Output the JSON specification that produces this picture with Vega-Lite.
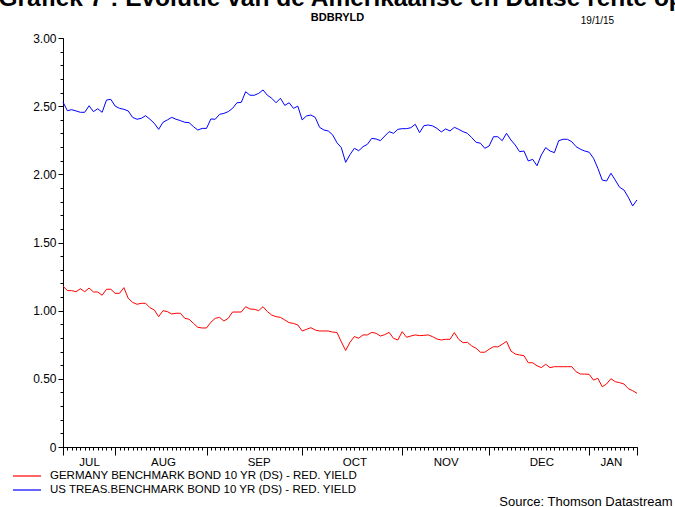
{
 "$schema": "https://vega.github.io/schema/vega-lite/v6.json",
 "width": 574, "height": 409,
 "autosize": {"type": "none"},
 "padding": {"left": 63, "top": 38, "right": 38, "bottom": 60},
 "background": "white",
 "config": {"font": "Liberation Sans", "view": {"stroke": null},
  "axis": {"domainColor": "black", "tickColor": "black", "labelColor": "black", "titleColor": "black", "grid": false, "labelFont": "Liberation Sans", "titleFont": "Liberation Sans"},
  "legend": {"labelFont": "Liberation Sans", "labelColor": "black"}},
 "data": {"values": [
  {"date":"2014-07-16","GER":1.18,"US":2.53},
  {"date":"2014-07-17","GER":1.147,"US":2.467},
  {"date":"2014-07-18","GER":1.147,"US":2.474},
  {"date":"2014-07-21","GER":1.139,"US":2.465},
  {"date":"2014-07-22","GER":1.161,"US":2.455},
  {"date":"2014-07-23","GER":1.139,"US":2.455},
  {"date":"2014-07-24","GER":1.166,"US":2.503},
  {"date":"2014-07-25","GER":1.137,"US":2.46},
  {"date":"2014-07-28","GER":1.137,"US":2.481},
  {"date":"2014-07-29","GER":1.113,"US":2.455},
  {"date":"2014-07-30","GER":1.157,"US":2.545},
  {"date":"2014-07-31","GER":1.157,"US":2.55},
  {"date":"2014-08-01","GER":1.127,"US":2.5},
  {"date":"2014-08-04","GER":1.127,"US":2.484},
  {"date":"2014-08-05","GER":1.169,"US":2.477},
  {"date":"2014-08-06","GER":1.091,"US":2.465},
  {"date":"2014-08-07","GER":1.061,"US":2.418},
  {"date":"2014-08-08","GER":1.047,"US":2.404},
  {"date":"2014-08-11","GER":1.054,"US":2.411},
  {"date":"2014-08-12","GER":1.054,"US":2.43},
  {"date":"2014-08-13","GER":1.022,"US":2.404},
  {"date":"2014-08-14","GER":1.005,"US":2.374},
  {"date":"2014-08-15","GER":0.956,"US":2.33},
  {"date":"2014-08-18","GER":1.0,"US":2.382},
  {"date":"2014-08-19","GER":0.993,"US":2.399},
  {"date":"2014-08-20","GER":0.976,"US":2.418},
  {"date":"2014-08-21","GER":0.981,"US":2.404},
  {"date":"2014-08-22","GER":0.981,"US":2.394},
  {"date":"2014-08-25","GER":0.944,"US":2.382},
  {"date":"2014-08-26","GER":0.937,"US":2.379},
  {"date":"2014-08-27","GER":0.907,"US":2.35},
  {"date":"2014-08-28","GER":0.878,"US":2.325},
  {"date":"2014-08-29","GER":0.873,"US":2.337},
  {"date":"2014-09-01","GER":0.873,"US":2.337},
  {"date":"2014-09-02","GER":0.915,"US":2.406},
  {"date":"2014-09-03","GER":0.944,"US":2.404},
  {"date":"2014-09-04","GER":0.951,"US":2.44},
  {"date":"2014-09-05","GER":0.924,"US":2.447},
  {"date":"2014-09-08","GER":0.944,"US":2.46},
  {"date":"2014-09-09","GER":0.99,"US":2.484},
  {"date":"2014-09-10","GER":0.99,"US":2.525},
  {"date":"2014-09-11","GER":0.99,"US":2.528},
  {"date":"2014-09-12","GER":1.029,"US":2.606},
  {"date":"2014-09-15","GER":1.012,"US":2.58},
  {"date":"2014-09-16","GER":1.01,"US":2.58},
  {"date":"2014-09-17","GER":1.0,"US":2.594},
  {"date":"2014-09-18","GER":1.029,"US":2.619},
  {"date":"2014-09-19","GER":0.993,"US":2.58},
  {"date":"2014-09-22","GER":0.968,"US":2.558},
  {"date":"2014-09-23","GER":0.956,"US":2.525},
  {"date":"2014-09-24","GER":0.951,"US":2.558},
  {"date":"2014-09-25","GER":0.932,"US":2.506},
  {"date":"2014-09-26","GER":0.912,"US":2.525},
  {"date":"2014-09-29","GER":0.907,"US":2.484},
  {"date":"2014-09-30","GER":0.895,"US":2.5},
  {"date":"2014-10-01","GER":0.851,"US":2.399},
  {"date":"2014-10-02","GER":0.863,"US":2.428},
  {"date":"2014-10-03","GER":0.875,"US":2.435},
  {"date":"2014-10-06","GER":0.858,"US":2.418},
  {"date":"2014-10-07","GER":0.851,"US":2.345},
  {"date":"2014-10-08","GER":0.851,"US":2.325},
  {"date":"2014-10-09","GER":0.851,"US":2.318},
  {"date":"2014-10-10","GER":0.843,"US":2.29},
  {"date":"2014-10-13","GER":0.84,"US":2.232},
  {"date":"2014-10-14","GER":0.772,"US":2.196},
  {"date":"2014-10-15","GER":0.708,"US":2.088},
  {"date":"2014-10-16","GER":0.768,"US":2.145},
  {"date":"2014-10-17","GER":0.81,"US":2.191},
  {"date":"2014-10-20","GER":0.798,"US":2.173},
  {"date":"2014-10-21","GER":0.822,"US":2.203},
  {"date":"2014-10-22","GER":0.822,"US":2.22},
  {"date":"2014-10-23","GER":0.841,"US":2.264},
  {"date":"2014-10-24","GER":0.834,"US":2.259},
  {"date":"2014-10-27","GER":0.814,"US":2.247},
  {"date":"2014-10-28","GER":0.824,"US":2.281},
  {"date":"2014-10-29","GER":0.841,"US":2.313},
  {"date":"2014-10-30","GER":0.797,"US":2.301},
  {"date":"2014-10-31","GER":0.785,"US":2.33},
  {"date":"2014-11-03","GER":0.846,"US":2.335},
  {"date":"2014-11-04","GER":0.805,"US":2.335},
  {"date":"2014-11-05","GER":0.814,"US":2.342},
  {"date":"2014-11-06","GER":0.822,"US":2.367},
  {"date":"2014-11-07","GER":0.817,"US":2.306},
  {"date":"2014-11-10","GER":0.819,"US":2.357},
  {"date":"2014-11-11","GER":0.822,"US":2.362},
  {"date":"2014-11-12","GER":0.809,"US":2.355},
  {"date":"2014-11-13","GER":0.792,"US":2.337},
  {"date":"2014-11-14","GER":0.785,"US":2.311},
  {"date":"2014-11-17","GER":0.79,"US":2.333},
  {"date":"2014-11-18","GER":0.79,"US":2.318},
  {"date":"2014-11-19","GER":0.839,"US":2.345},
  {"date":"2014-11-20","GER":0.79,"US":2.33},
  {"date":"2014-11-21","GER":0.765,"US":2.313},
  {"date":"2014-11-24","GER":0.768,"US":2.301},
  {"date":"2014-11-25","GER":0.741,"US":2.269},
  {"date":"2014-11-26","GER":0.724,"US":2.235},
  {"date":"2014-11-27","GER":0.695,"US":2.228},
  {"date":"2014-11-28","GER":0.695,"US":2.191},
  {"date":"2014-12-01","GER":0.717,"US":2.208},
  {"date":"2014-12-02","GER":0.736,"US":2.276},
  {"date":"2014-12-03","GER":0.734,"US":2.276},
  {"date":"2014-12-04","GER":0.753,"US":2.247},
  {"date":"2014-12-05","GER":0.775,"US":2.301},
  {"date":"2014-12-08","GER":0.704,"US":2.252},
  {"date":"2014-12-09","GER":0.682,"US":2.215},
  {"date":"2014-12-10","GER":0.675,"US":2.166},
  {"date":"2014-12-11","GER":0.67,"US":2.171},
  {"date":"2014-12-12","GER":0.618,"US":2.098},
  {"date":"2014-12-15","GER":0.618,"US":2.11},
  {"date":"2014-12-16","GER":0.596,"US":2.063},
  {"date":"2014-12-17","GER":0.582,"US":2.142},
  {"date":"2014-12-18","GER":0.607,"US":2.196},
  {"date":"2014-12-19","GER":0.582,"US":2.171},
  {"date":"2014-12-22","GER":0.589,"US":2.159},
  {"date":"2014-12-23","GER":0.589,"US":2.247},
  {"date":"2014-12-24","GER":0.589,"US":2.257},
  {"date":"2014-12-25","GER":0.589,"US":2.257},
  {"date":"2014-12-26","GER":0.589,"US":2.239},
  {"date":"2014-12-29","GER":0.552,"US":2.203},
  {"date":"2014-12-30","GER":0.535,"US":2.184},
  {"date":"2014-12-31","GER":0.535,"US":2.171},
  {"date":"2015-01-01","GER":0.533,"US":2.162},
  {"date":"2015-01-02","GER":0.491,"US":2.118},
  {"date":"2015-01-05","GER":0.504,"US":2.044},
  {"date":"2015-01-06","GER":0.442,"US":1.958},
  {"date":"2015-01-07","GER":0.462,"US":1.951},
  {"date":"2015-01-08","GER":0.501,"US":2.008},
  {"date":"2015-01-09","GER":0.479,"US":1.958},
  {"date":"2015-01-12","GER":0.472,"US":1.905},
  {"date":"2015-01-13","GER":0.462,"US":1.885},
  {"date":"2015-01-14","GER":0.428,"US":1.832},
  {"date":"2015-01-15","GER":0.413,"US":1.768},
  {"date":"2015-01-16","GER":0.394,"US":1.812}
 ]},
 "transform": [{"fold": ["GER", "US"], "as": ["series", "yield"]}],
 "layer": [
  {
   "mark": {"type": "line", "strokeWidth": 1},
   "encoding": {
    "x": {"field": "date", "type": "ordinal", "scale": {"type": "point", "padding": 0},
     "axis": {"orient": "bottom", "values": ["2014-07-16","2014-08-01","2014-09-01","2014-10-01","2014-11-03","2014-12-01","2015-01-01","2015-01-16"],
      "labels": false, "tickSize": 8, "domainWidth": 1, "tickWidth": 1,
      "title": "Source: Thomson Datastream", "titleX": 609, "titleY": 58, "titleAlign": "right", "titleBaseline": "alphabetic", "titleAngle": 0, "titleFontSize": 13, "titleFontWeight": "normal"}},
    "y": {"field": "yield", "type": "quantitative", "scale": {"domain": [0, 3], "nice": false},
     "axis": {"orient": "left", "values": [0, 0.5, 1, 1.5, 2, 2.5, 3], "labelExpr": "datum.value == 0 ? '0' : format(datum.value, '.2f')",
      "tickSize": 5, "labelFontSize": 12, "labelPadding": 2, "domainWidth": 1, "tickWidth": 1,
      "title": "BDBRYLD", "titleX": 274, "titleY": -18, "titleAngle": 0, "titleAlign": "center", "titleBaseline": "alphabetic", "titleFontSize": 11, "titleFontWeight": "bold"}},
    "color": {"field": "series", "type": "nominal", "scale": {"domain": ["GER", "US"], "range": ["#ff0000", "#0000ff"]},
     "legend": {"orient": "none", "legendX": -44, "legendY": 430, "title": null, "direction": "vertical", "symbolType": "M-2,0H2", "symbolSize": 196, "symbolStrokeWidth": 1.2, "labelFontSize": 11.5, "labelOffset": 15, "labelLimit": 0, "rowPadding": 0,
      "labelExpr": "datum.value == 'GER' ? 'GERMANY BENCHMARK BOND 10 YR (DS) - RED. YIELD' : 'US TREAS.BENCHMARK BOND 10 YR (DS) - RED. YIELD'",
      "encode": {"symbols": {"update": {"stroke": {"signal": "scale('color', datum.value)"}, "strokeWidth": {"value": 1.2}, "strokeOpacity": {"value": 1}, "fillOpacity": {"value": 0}}}}}}
   }
  },
  {
   "mark": {"type": "point", "opacity": 0},
   "encoding": {
    "x": {"field": "date", "type": "ordinal", "scale": {"type": "point", "padding": 0},
     "axis": {"orient": "bottom", "labels": false, "domain": false, "tickSize": 3, "tickWidth": 1, "title": null}},
    "y": {"field": "yield", "type": "quantitative",
     "axis": {"orient": "left", "values": [0,0.1,0.2,0.3,0.4,0.5,0.6,0.7,0.8,0.9,1,1.1,1.2,1.3,1.4,1.5,1.6,1.7,1.8,1.9,2,2.1,2.2,2.3,2.4,2.5,2.6,2.7,2.8,2.9,3],
      "labels": false, "domain": false, "tickSize": 3, "tickWidth": 1,
      "title": "19/1/15", "titleX": 534, "titleY": -15, "titleAngle": 0, "titleAlign": "center", "titleBaseline": "alphabetic", "titleFontSize": 10, "titleFontWeight": "normal"}}
   }
  },
  {
   "mark": {"type": "point", "opacity": 0},
   "encoding": {
    "x": {"field": "date", "type": "ordinal", "scale": {"type": "point", "padding": 0},
     "axis": {"orient": "bottom", "values": ["2014-07-24","2014-08-18","2014-09-17","2014-10-17","2014-11-17","2014-12-17","2015-01-08"],
      "labelExpr": "upper(timeFormat(toDate(datum.value), '%b'))", "ticks": false, "domain": false, "labelPadding": 9, "labelBaseline": "top", "labelFontSize": 11.5, "labelAngle": 0,
      "title": "Grafiek 7 : Evolutie van de Amerikaanse en Duitse rente op", "titleX": -65, "titleY": -442, "titleAlign": "left", "titleBaseline": "alphabetic", "titleAngle": 0, "titleFontSize": 24.5, "titleFontWeight": "bold"}},
    "y": {"field": "yield", "type": "quantitative", "axis": null}
   }
  }
 ],
 "resolve": {"axis": {"x": "independent", "y": "independent"}}
}
